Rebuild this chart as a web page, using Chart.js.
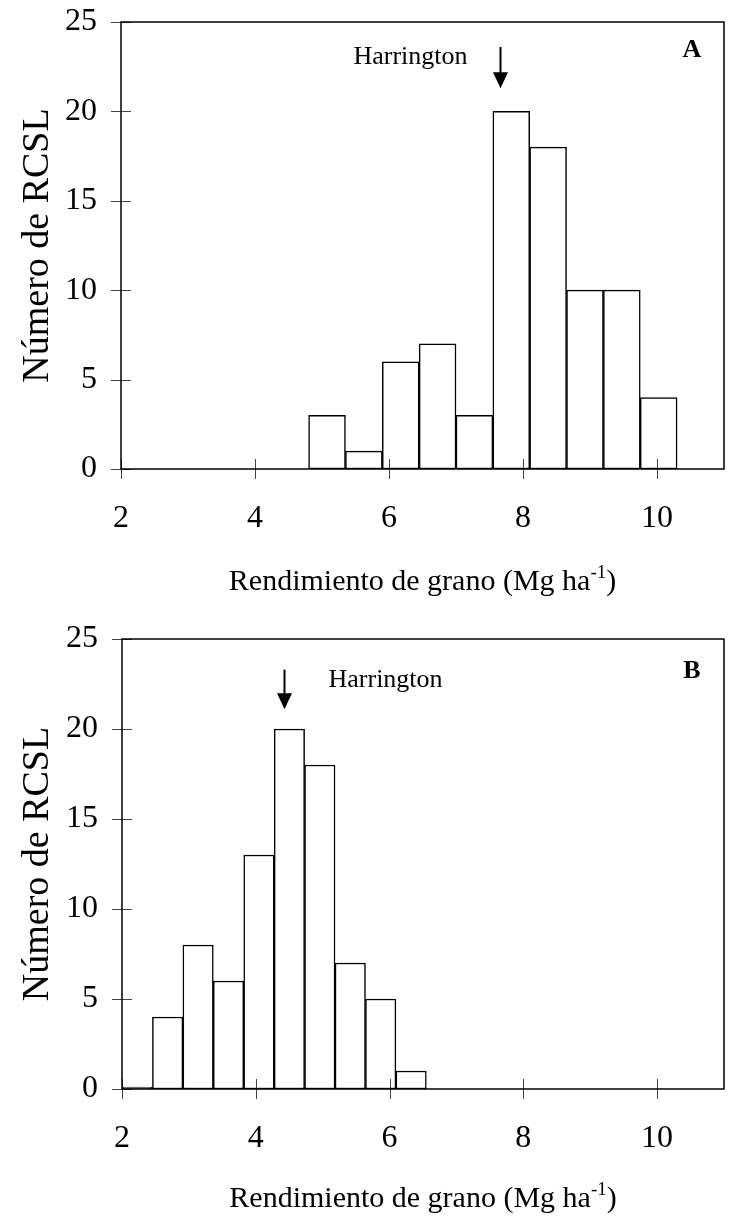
<!DOCTYPE html>
<html>
<head>
<meta charset="utf-8">
<script src="https://cdn.jsdelivr.net/npm/chart.js@4.4.1/dist/chart.umd.min.js"></script>
<style>
  html, body { margin: 0; padding: 0; background: #fff; }
  .panel { position: relative; width: 730px; }
  #panel-a { height: 600px; }
  #panel-b { height: 619px; }
</style>
</head>
<body>
<div class="panel" id="panel-a"><canvas id="chart-a"></canvas></div>
<div class="panel" id="panel-b"><canvas id="chart-b"></canvas></div>
<script>
'use strict';

// axis ticks shared by both panels
const xTicks = [2, 4, 6, 8, 10];
const yTicks = [0, 5, 10, 15, 20, 25];

// panel A: bin edges (Mg/ha) and number of lines per bin
const edgesA  = [4.80, 5.35, 5.90, 6.45, 7.00, 7.55, 8.10, 8.65, 9.20, 9.75, 10.30];
const countsA = [3, 1, 6, 7, 3, 20, 18, 10, 10, 4];
const harringtonA = 7.65;

// panel B
const edgesB  = [2.00, 2.455, 2.91, 3.365, 3.82, 4.275, 4.73, 5.185, 5.64, 6.095, 6.55];
const countsB = [0, 4, 8, 6, 13, 20, 18, 7, 5, 1];
const harringtonB = 4.42;

const SERIF = "'Liberation Serif', 'Times New Roman', serif";

// box, ticks that cross the axes, arrow + labels, x title with superscript
const framePlugin = {
  id: 'frame',
  afterDatasetsDraw(chart, args, o) {
    const { ctx, chartArea: a, scales: { x, y } } = chart;
    ctx.save();

    ctx.strokeStyle = '#444';
    ctx.lineWidth = 1;
    ctx.beginPath();
    xTicks.forEach(v => {
      const px = Math.round(x.getPixelForValue(v)) + 0.5;
      ctx.moveTo(px, a.bottom - 10); ctx.lineTo(px, a.bottom + 10);
    });
    yTicks.forEach(v => {
      const py = Math.round(y.getPixelForValue(v)) + 0.5;
      ctx.moveTo(a.left - 10, py); ctx.lineTo(a.left + 10, py);
    });
    ctx.stroke();

    ctx.strokeStyle = '#000';
    ctx.lineWidth = 1.5;
    ctx.strokeRect(a.left, a.top, a.right - a.left, a.bottom - a.top);

    // Harrington arrow
    const ax = Math.round(x.getPixelForValue(o.arrowX)) + 0.5;
    const top = y.getPixelForValue(o.arrowTop);
    const tip = y.getPixelForValue(o.arrowTip);
    ctx.lineWidth = 2;
    ctx.beginPath();
    ctx.moveTo(ax, top); ctx.lineTo(ax, tip - 14);
    ctx.stroke();
    ctx.fillStyle = '#000';
    ctx.beginPath();
    ctx.moveTo(ax - 7.5, tip - 16); ctx.lineTo(ax + 7.5, tip - 16); ctx.lineTo(ax, tip);
    ctx.closePath(); ctx.fill();

    ctx.font = '26px ' + SERIF;
    ctx.textBaseline = 'middle';
    if (o.side === 'left') {
      ctx.textAlign = 'right';
      ctx.fillText('Harrington', ax - 33, top + 10);
    } else {
      ctx.textAlign = 'left';
      ctx.fillText('Harrington', ax + 44, top + 11);
    }

    // panel letter
    ctx.font = 'bold 26px ' + SERIF;
    ctx.textAlign = 'center';
    ctx.fillText(o.letter, a.right - 32, a.top + o.letterDy);

    // x axis title with superscript
    const main = 'Rendimiento de grano (Mg ha';
    const sup = '-1';
    ctx.textBaseline = 'alphabetic';
    ctx.textAlign = 'left';
    ctx.font = '30px ' + SERIF;
    const w1 = ctx.measureText(main).width;
    const w3 = ctx.measureText(')').width;
    ctx.font = '19px ' + SERIF;
    const w2 = ctx.measureText(sup).width;
    const cx = (a.left + a.right) / 2;
    let tx = cx - (w1 + w2 + w3) / 2;
    const by = a.bottom + o.titleDy;
    ctx.font = '30px ' + SERIF;
    ctx.fillText(main, tx, by);
    tx += w1;
    ctx.font = '19px ' + SERIF;
    ctx.fillText(sup, tx, by - 12);
    tx += w2;
    ctx.font = '30px ' + SERIF;
    ctx.fillText(')', tx, by);

    ctx.restore();
  }
};

function makeChart(id, edges, counts, cfg) {
  const centers = counts.map((_, i) => (edges[i] + edges[i + 1]) / 2);
  return new Chart(document.getElementById(id), {
    type: 'bar',
    data: {
      datasets: [{
        data: centers.map((c, i) => ({ x: c, y: counts[i] })),
        backgroundColor: '#fff',
        borderColor: '#000',
        borderWidth: 1.5,
        borderSkipped: false,
        barPercentage: 1,
        categoryPercentage: 1,
        minBarLength: cfg.minBar
      }]
    },
    options: {
      responsive: true,
      maintainAspectRatio: false,
      animation: false,
      layout: { padding: { top: cfg.top, right: 6, left: 0, bottom: 0 } },
      plugins: {
        legend: { display: false },
        tooltip: { enabled: false },
        frame: cfg.frame
      },
      scales: {
        x: {
          type: 'linear',
          min: 2, max: 11,
          offset: false,
          afterBuildTicks: s => { s.ticks = xTicks.map(v => ({ value: v })); },
          afterFit: s => { s.height = cfg.xHeight; s.paddingLeft = 0; s.paddingRight = 0; },
          grid: { display: false, drawTicks: false, offset: false },
          border: { display: false },
          ticks: { color: '#000', padding: 30, font: { family: SERIF, size: 32 } }
        },
        y: {
          min: 0, max: 25,
          afterBuildTicks: s => { s.ticks = yTicks.map(v => ({ value: v })); },
          afterFit: s => { s.width = cfg.yWidth; s.paddingTop = 0; s.paddingBottom = 0; },
          grid: { display: false, drawTicks: false },
          border: { display: false },
          ticks: { color: '#000', padding: 24, font: { family: SERIF, size: 32 } },
          title: {
            display: true,
            text: 'Número de RCSL',
            color: '#000',
            padding: { top: 15, bottom: 0 },
            font: { family: SERIF, size: 38 }
          }
        }
      }
    },
    plugins: [framePlugin]
  });
}

makeChart('chart-a', edgesA, countsA, {
  top: 22, xHeight: 131, yWidth: 121, minBar: 0,
  frame: { arrowX: harringtonA, arrowTop: 23.6, arrowTip: 21.3, side: 'left', letter: 'A', letterDy: 28, titleDy: 121 }
});

makeChart('chart-b', edgesB, countsB, {
  top: 39, xHeight: 130, yWidth: 122, minBar: 2,
  frame: { arrowX: harringtonB, arrowTop: 23.3, arrowTip: 21.1, side: 'right', letter: 'B', letterDy: 32, titleDy: 118 }
});
</script>
</body>
</html>
